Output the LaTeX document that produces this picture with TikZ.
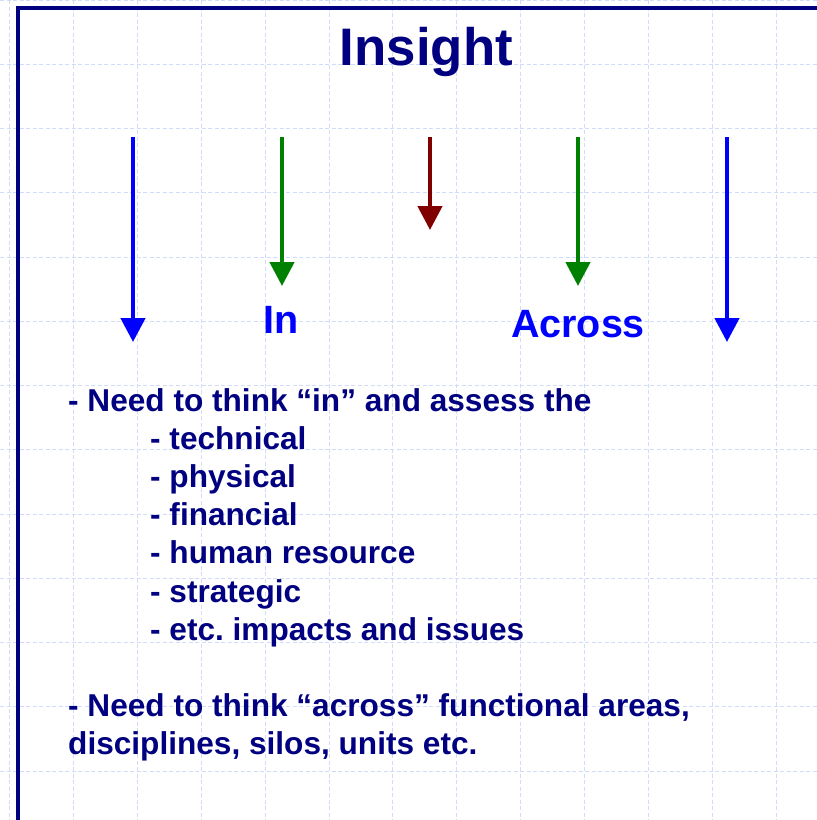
\documentclass[tikz,border=0pt]{standalone}
\usepackage{fontspec}
\setmainfont{Liberation Sans}
\usetikzlibrary{arrows.meta}
\frenchspacing

\definecolor{navy}{RGB}{0,0,128}
\definecolor{brightblue}{RGB}{0,0,255}
\definecolor{darkgreen}{RGB}{0,128,0}
\definecolor{maroon}{RGB}{128,0,0}
\definecolor{gridblue}{RGB}{208,220,250}

\tikzset{
    gridline/.style={draw=gridblue, line width=1pt, dash pattern=on 4pt off 2.5pt},
    frameline/.style={draw=navy, line width=4pt},
    downarrow/.style={line width=4.5pt, -{Triangle[width=24pt,length=24pt]}},
    headline/.style={text=brightblue, font=\fontsize{39.5}{44}\selectfont\bfseries, inner sep=0, anchor=base},
    bodyline/.style={text=navy, font=\fontsize{31.6}{38}\selectfont\bfseries, inner sep=0, anchor=base west}
}

\begin{document}
\begin{tikzpicture}[x=1pt, y=-1pt]
    \useasboundingbox (0,0) rectangle (817,820);
    \fill[white] (0,0) rectangle (817,820);

    % background grid
    \foreach \i in {0,...,12} {
        \draw[gridline] (9.5+63.9*\i,0) -- (9.5+63.9*\i,820);
        \draw[gridline] (0,64.25*\i) -- (817,64.25*\i);
    }

    % frame
    \draw[frameline] (18,820) -- (18,8) -- (817,8);

    \node[text=navy, font=\fontsize{52.8}{60}\selectfont\bfseries, inner sep=0, anchor=base]
        (insight) at (426.5,65) {Insight};

    % arrow end points
    \coordinate (lbtop) at (133,137);
    \coordinate (lbtip) at (133,342);
    \coordinate (lgtop) at (282,137);
    \coordinate (lgtip) at (282,286);
    \coordinate (rdtop) at (430,137);
    \coordinate (rdtip) at (430,230);
    \coordinate (rgtop) at (578,137);
    \coordinate (rgtip) at (578,286);
    \coordinate (rbtop) at (727,137);
    \coordinate (rbtip) at (727,342);

    \draw[downarrow, brightblue] (lbtop) -- (lbtip);
    \draw[downarrow, darkgreen] (lgtop) -- (lgtip);
    \draw[downarrow, maroon] (rdtop) -- (rdtip);
    \draw[downarrow, darkgreen] (rgtop) -- (rgtip);
    \draw[downarrow, brightblue] (rbtop) -- (rbtip);

    \node[headline] (in) at (281,333) {In};
    \node[headline] (across) at (578,337) {Across};

    \begin{scope}[every node/.style={bodyline}]
        \node (think in) at (68,411) {- Need to think “in” and assess the};
        \node (technical) at (150,449.2) {- technical};
        \node (physical) at (150,487.4) {- physical};
        \node (financial) at (150,525.6) {- financial};
        \node (human) at (150,563.8) {- human resource};
        \node (strategic) at (150,602) {- strategic};
        \node (etc) at (150,640.2) {- etc. impacts and issues};

        \node (think across) at (68,716.6) {- Need to think “across” functional areas,};
        \node (disciplines) at (68,754.8) {disciplines, silos, units etc.};
    \end{scope}
\end{tikzpicture}
\end{document}
